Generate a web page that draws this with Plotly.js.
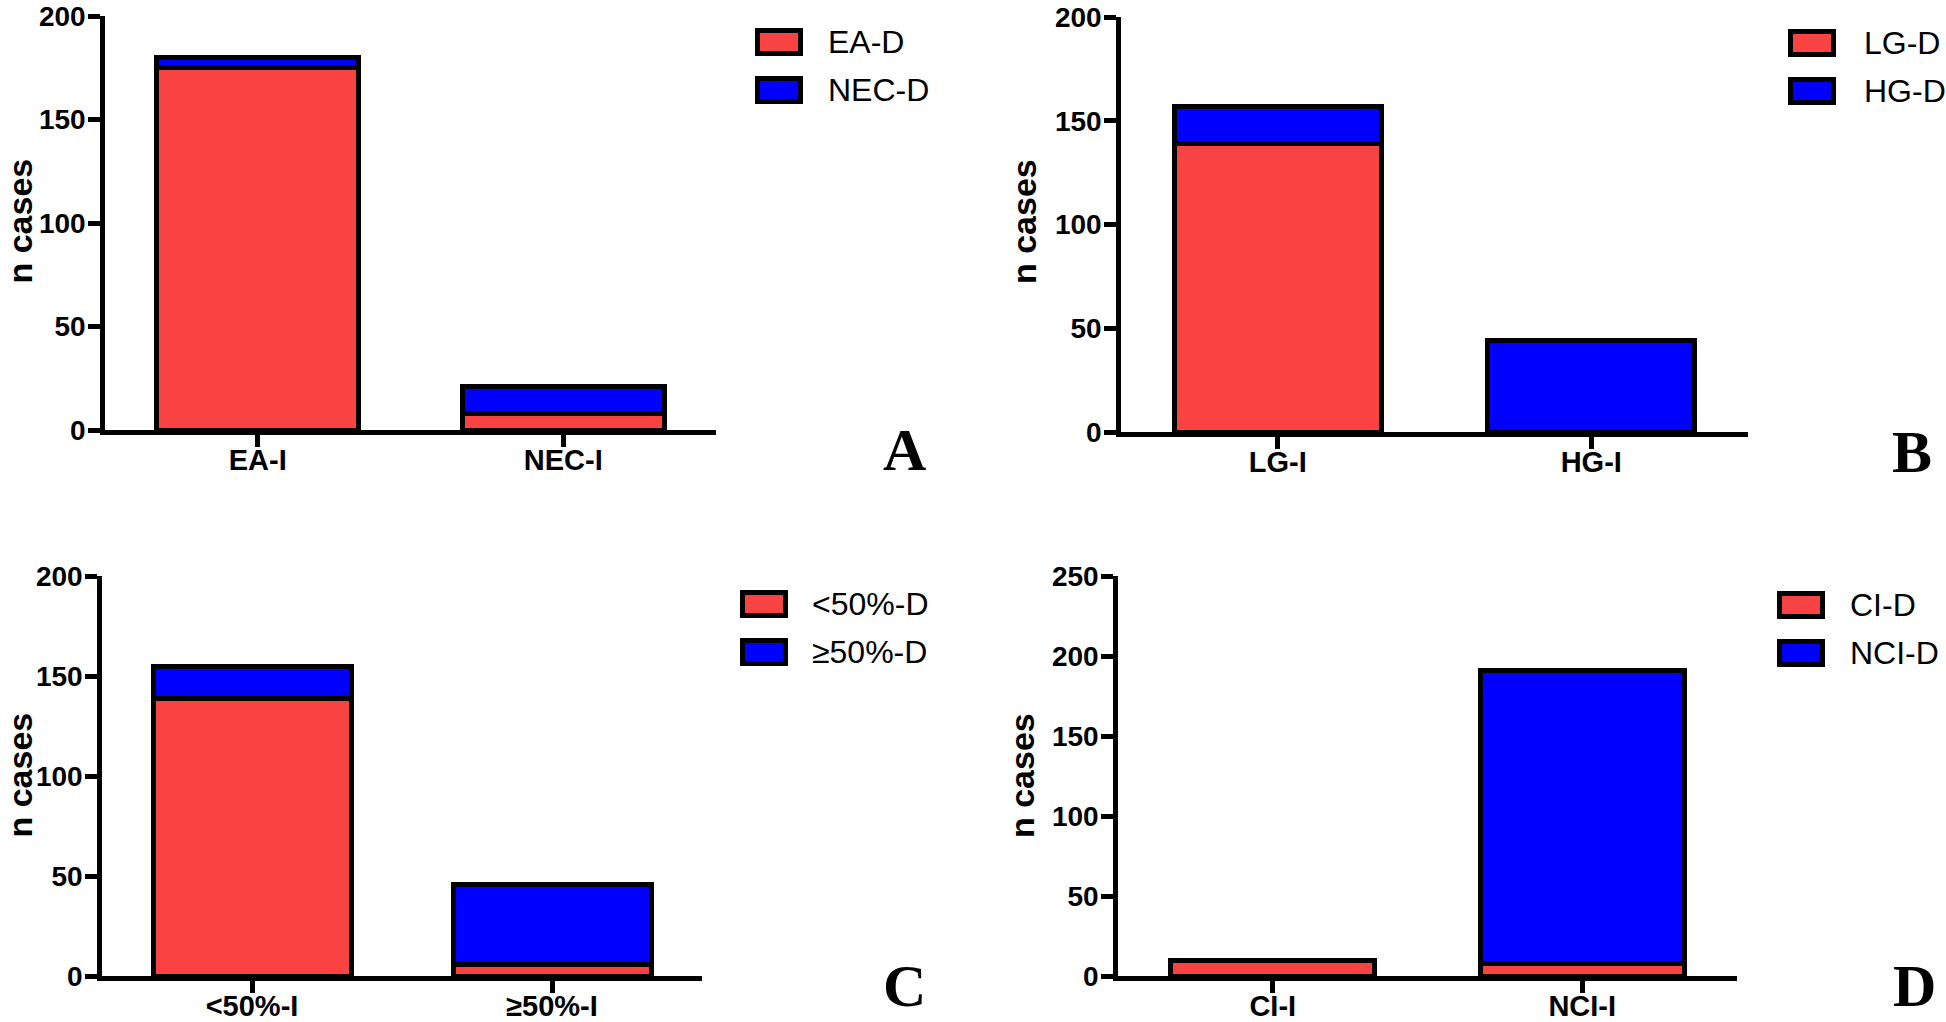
<!DOCTYPE html>
<html><head><meta charset="utf-8">
<script src="https://cdn.plot.ly/plotly-3.0.1.min.js"></script>
<style>html,body{margin:0;padding:0;background:#fff}#chart{width:1946px;height:1022px}</style>
</head><body><div id="chart"></div>
<script>
// ---- data ----
const categoriesA = ['EA-I', 'NEC-I'];
const seriesNamesA = ['EA-D', 'NEC-D'];
const redValuesA = [175, 8];
const blueValuesA = [5, 13];

const categoriesB = ['LG-I', 'HG-I'];
const seriesNamesB = ['LG-D', 'HG-D'];
const redValuesB = [139, 0];
const blueValuesB = [18, 44];

const categoriesC = ['<50%-I', '≥50%-I'];
const seriesNamesC = ['<50%-D', '≥50%-D'];
const redValuesC = [139, 6];
const blueValuesC = [16, 40];

const categoriesD = ['CI-I', 'NCI-I'];
const seriesNamesD = ['CI-D', 'NCI-D'];
const redValuesD = [10, 8];
const blueValuesD = [0, 183];

const yTicksABC = [0, 50, 100, 150, 200];
const yTicksD = [0, 50, 100, 150, 200, 250];
const panelLetters = ['A', 'B', 'C', 'D'];
const yTitle = 'n cases';

// ---- styling / layout ----
const W = 1946, H = 1022;
const RED = '#F94242', BLUE = '#0000FF';
const SANS = 'Liberation Sans, Arial, Helvetica, sans-serif';
const SERIF = 'Liberation Serif, Times New Roman, serif';
const px = v => v / W;
const py = v => 1 - v / H;

const panels = [
  {cats: categoriesA, names: seriesNamesA, red: redValuesA, blue: blueValuesA, ticks: yTicksABC, ymax: 200,
   xdom: [105, 716], ytop: 16, ybot: 430, leg: {left: 755, top: 28, text: 826},
   letter: {x: 904, y: 450, anchor: 'middle'}, title: {x: 19.5, y: 221}},
  {cats: categoriesB, names: seriesNamesB, red: redValuesB, blue: blueValuesB, ticks: yTicksABC, ymax: 200,
   xdom: [1121, 1748], ytop: 17, ybot: 432, leg: {left: 1788, top: 29, text: 1862},
   letter: {x: 1912, y: 452, anchor: 'middle'}, title: {x: 1024, y: 222}},
  {cats: categoriesC, names: seriesNamesC, red: redValuesC, blue: blueValuesC, ticks: yTicksABC, ymax: 200,
   xdom: [102, 702], ytop: 576, ybot: 976, leg: {left: 740, top: 590, text: 810},
   letter: {x: 904, y: 1021, anchor: 'bottom'}, title: {x: 19.5, y: 775}},
  {cats: categoriesD, names: seriesNamesD, red: redValuesD, blue: blueValuesD, ticks: yTicksD, ymax: 250,
   xdom: [1118, 1737], ytop: 576, ybot: 976, leg: {left: 1777, top: 591, text: 1848},
   letter: {x: 1914, y: 1021, anchor: 'bottom'}, title: {x: 1022, y: 775}}
];

const data = [];
const layout = {
  width: W, height: H,
  margin: {l: 0, r: 0, t: 0, b: 0},
  paper_bgcolor: '#fff', plot_bgcolor: '#fff',
  barmode: 'stack',
  showlegend: false,
  shapes: [], annotations: []
};

panels.forEach((p, i) => {
  const n = i === 0 ? '' : String(i + 1);
  const xa = 'x' + n, ya = 'y' + n;
  [[p.red, RED, p.names[0]], [p.blue, BLUE, p.names[1]]].forEach(([vals, col, name]) => {
    data.push({
      type: 'bar', x: p.cats, y: vals, name: name,
      xaxis: xa, yaxis: ya, width: 0.66,
      marker: {color: col, line: {color: '#000', width: 5}},
      showlegend: false, hoverinfo: 'x+y+name'
    });
  });
  layout['xaxis' + n] = {
    domain: [px(p.xdom[0]), px(p.xdom[1])], anchor: ya, type: 'category',
    range: [-0.5, 1.5], showline: true, linewidth: 4.5, linecolor: '#000',
    ticks: 'outside', ticklen: 12, tickwidth: 4.5, tickcolor: '#000',
    ticklabelstandoff: -12, ticklabeloverflow: 'allow',
    tickfont: {family: SANS, size: 29, weight: 'bold', color: '#000'},
    showgrid: false, zeroline: false, fixedrange: true
  };
  layout['yaxis' + n] = {
    domain: [py(p.ybot), py(p.ytop)], anchor: xa, range: [0, p.ymax],
    tickmode: 'array', tickvals: p.ticks, ticklabeloverflow: 'allow',
    ticklabelstandoff: -3,
    showline: true, linewidth: 4.5, linecolor: '#000',
    ticks: 'outside', ticklen: 12, tickwidth: 4.5, tickcolor: '#000',
    tickfont: {family: SANS, size: 28, weight: 'bold', color: '#000'},
    showgrid: false, zeroline: false, fixedrange: true
  };
  // y-axis title
  layout.annotations.push({
    xref: 'paper', yref: 'paper', x: px(p.title.x), y: py(p.title.y),
    xanchor: 'center', yanchor: 'middle', showarrow: false, textangle: -90,
    text: yTitle, font: {family: SANS, size: 34, weight: 'bold', color: '#000'}
  });
  // legend swatches + labels
  [[RED, p.names[0], 0], [BLUE, p.names[1], 48]].forEach(([col, label, dy]) => {
    const top = p.leg.top + dy;
    layout.shapes.push({
      type: 'rect', xref: 'paper', yref: 'paper',
      x0: px(p.leg.left + 2.5), x1: px(p.leg.left + 48 - 2.5),
      y0: py(top + 2.5), y1: py(top + 28 - 2.5),
      fillcolor: col, line: {color: '#000', width: 5}
    });
    layout.annotations.push({
      xref: 'paper', yref: 'paper', x: px(p.leg.text), y: py(top + 14),
      xanchor: 'left', yanchor: 'middle', showarrow: false, text: label,
      font: {family: SANS, size: 32, color: '#000'}
    });
  });
  // panel letter
  layout.annotations.push({
    xref: 'paper', yref: 'paper', x: px(p.letter.x), y: py(p.letter.y),
    xanchor: 'center', yanchor: p.letter.anchor, showarrow: false, text: panelLetters[i],
    font: {family: SERIF, size: 60, weight: 'bold', color: '#000'}
  });
});

Plotly.newPlot('chart', data, layout, {displayModeBar: false});
</script></body></html>
